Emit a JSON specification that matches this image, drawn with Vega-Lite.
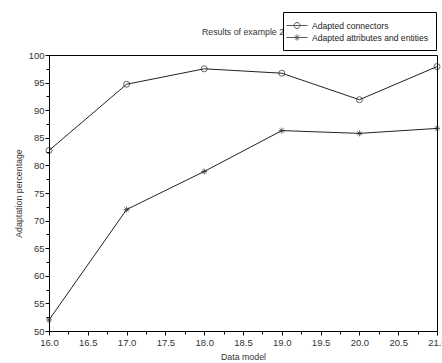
{
  "$schema": "https://vega.github.io/schema/vega-lite/v6.json",
  "width": 388,
  "height": 276,
  "autosize": {"type": "none"},
  "padding": {"left": 49, "top": 55, "right": 5, "bottom": 32},
  "background": "white",
  "config": {
    "font": "Liberation Sans",
    "view": {"stroke": "black", "strokeWidth": 1},
    "axis": {"grid": false, "domainColor": "black", "tickColor": "black", "labelColor": "#333", "titleColor": "#333", "labelFont": "Liberation Sans", "titleFont": "Liberation Sans", "labelFontSize": 9.5, "titleFontSize": 8.8, "titleFontWeight": "normal", "labelFlush": false, "labelOverlap": false}
  },
  "title": {"text": "Results of example 2", "fontSize": 8.8, "fontWeight": "normal", "color": "#333", "anchor": "middle", "frame": "group", "zindex": 0, "dy": 29},
  "data": {"values": [
    {"model": 16, "series": "Adapted connectors", "value": 82.7},
    {"model": 17, "series": "Adapted connectors", "value": 94.7},
    {"model": 18, "series": "Adapted connectors", "value": 97.5},
    {"model": 19, "series": "Adapted connectors", "value": 96.7},
    {"model": 20, "series": "Adapted connectors", "value": 91.9},
    {"model": 21, "series": "Adapted connectors", "value": 97.9},
    {"model": 16, "series": "Adapted attributes and entities", "value": 52.0},
    {"model": 17, "series": "Adapted attributes and entities", "value": 72.0},
    {"model": 18, "series": "Adapted attributes and entities", "value": 78.9},
    {"model": 19, "series": "Adapted attributes and entities", "value": 86.3},
    {"model": 20, "series": "Adapted attributes and entities", "value": 85.8},
    {"model": 21, "series": "Adapted attributes and entities", "value": 86.7}
  ]},
  "layer": [
    {
      "mark": {"type": "line", "strokeWidth": 1, "color": "#222"},
      "encoding": {
        "x": {"field": "model", "type": "quantitative", "scale": {"domain": [16, 21], "nice": false, "zero": false}, "axis": {"values": [16, 16.5, 17, 17.5, 18, 18.5, 19, 19.5, 20, 20.5, 21], "format": ".1f", "tickSize": 4, "labelPadding": 2, "title": "Data model", "titlePadding": 6, "orient": "bottom"}},
        "y": {"field": "value", "type": "quantitative", "scale": {"domain": [50, 100], "nice": false, "zero": false}, "axis": {"values": [50, 55, 60, 65, 70, 75, 80, 85, 90, 95, 100], "tickSize": 4, "labelPadding": 1, "title": "Adaptation percentage", "titlePadding": 5, "orient": "left"}},
        "detail": {"field": "series", "type": "nominal"}
      }
    },
    {
      "mark": {"type": "point", "filled": false, "strokeWidth": 1, "size": 36, "color": "#222"},
      "encoding": {
        "x": {"field": "model", "type": "quantitative", "axis": {"values": [16.25, 16.75, 17.25, 17.75, 18.25, 18.75, 19.25, 19.75, 20.25, 20.75], "labels": false, "domain": false, "tickSize": 3, "title": null, "orient": "bottom"}},
        "y": {"field": "value", "type": "quantitative", "axis": {"values": [52.5, 57.5, 62.5, 67.5, 72.5, 77.5, 82.5, 87.5, 92.5, 97.5], "labels": false, "domain": false, "tickSize": 3, "title": null, "orient": "left"}},
        "shape": {
          "field": "series", "type": "nominal",
          "scale": {"domain": ["Adapted connectors", "Adapted attributes and entities"], "range": ["circle", "M-1,0L1,0M0,-1L0,1M-0.7,-0.7L0.7,0.7M-0.7,0.7L0.7,-0.7"]},
          "legend": null
        }
      }
    },
    {
      "transform": [{"filter": "datum.model > 100"}],
      "mark": {"type": "point", "filled": false, "strokeWidth": 1, "size": 144, "color": "#222"},
      "encoding": {
        "x": {"field": "model", "type": "quantitative", "axis": null},
        "y": {"field": "value", "type": "quantitative", "axis": null},
        "shape": {
          "field": "series", "type": "nominal",
          "scale": {"domain": ["Adapted connectors", "Adapted attributes and entities"], "range": ["M-1.75,0L1.75,0M-0.5,0A0.5,0.5 0 1,0 0.5,0A0.5,0.5 0 1,0 -0.5,0", "M-1.75,0L1.75,0M-0.5,0L0.5,0M0,-0.5L0,0.5M-0.35,-0.35L0.35,0.35M-0.35,0.35L0.35,-0.35"]},
          "legend": {
            "title": null, "orient": "none", "legendX": 234, "legendY": -43, "zindex": 1,
            "fillColor": "white", "strokeColor": "black", "padding": 7,
            "symbolSize": 144, "symbolOffset": 0.5, "labelOffset": 8.5, "rowPadding": -0.5,
            "labelFontSize": 8.6, "labelColor": "#222", "labelFont": "Liberation Sans",
            "symbolStrokeColor": "#111", "symbolFillColor": "transparent", "symbolStrokeWidth": 1
          }
        }
      }
    }
  ],
  "resolve": {"axis": {"x": "independent", "y": "independent"}, "scale": {"shape": "independent"}}
}
